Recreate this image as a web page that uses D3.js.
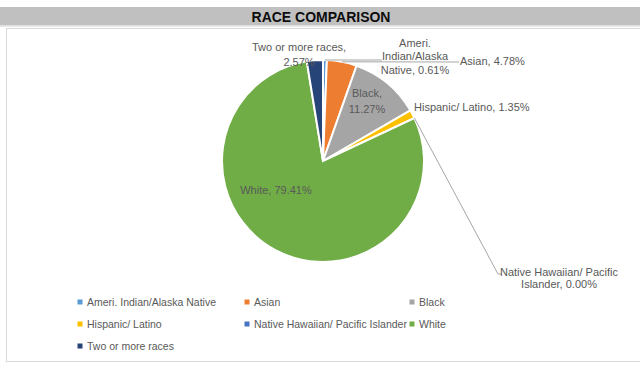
<!DOCTYPE html>
<html>
<head>
<meta charset="utf-8">
<script src="https://cdn.jsdelivr.net/npm/d3@7"></script>
<style>
  html, body { margin: 0; padding: 0; background: #fff; }
  svg { display: block; }
  text { font-family: "Liberation Sans", Arial, sans-serif; }
</style>
</head>
<body>
<svg id="chart" width="640" height="370"></svg>
<script>
// ---- data ----
const title = "RACE COMPARISON";
const categories = [
  "Ameri. Indian/Alaska Native",
  "Asian",
  "Black",
  "Hispanic/ Latino",
  "Native Hawaiian/ Pacific Islander",
  "White",
  "Two or more races"
];
const values = [0.61, 4.78, 11.27, 1.35, 0.00, 79.41, 2.57];
const colors = ["#5B9BD5", "#ED7D31", "#A5A5A5", "#FFC000", "#4472C4", "#70AD47", "#264478"];
// words per line when wrapping each data label
const labelWrap = [[1, 1, 2], [3], [1, 1], [4], [3, 2], [2], [4, 1]];

// ---- layout ----
const W = 640, H = 370;
const cx = 323, cy = 161, R = 101;
// label block centre (relative to pie center) and alignment
const labelLayout = [
  { dx: 92,  dy: -105,  anchor: "middle", lh: 13.5 },
  { dx: 137, dy: -100,  anchor: "start",  lh: 13 },
  { dx: 44,  dy: -60,   anchor: "middle", lh: 16 },
  { dx: 91,  dy: -54,   anchor: "start",  lh: 13 },
  { dx: 236, dy: 117,   anchor: "middle", lh: 12.5 },
  { dx: -47, dy: 29,    anchor: "middle", lh: 13 },
  { dx: -24, dy: -106.5, anchor: "middle", lh: 15 }
];
// leader lines: label-side end points (relative to center); null = none
const leaderEnds = [
  [[59, -101]],
  [[136, -99]],
  null,
  null,
  [[175, 113], [179, 113]],
  null,
  null
];

const svg = d3.select("#chart");

// title band
svg.append("rect").attr("x", 0).attr("y", 7).attr("width", W).attr("height", 18.5).attr("fill", "#c0c0c0");
svg.append("line").attr("x1", 0).attr("x2", W).attr("y1", 26.5).attr("y2", 26.5)
  .attr("stroke", "#e6e6e6").attr("stroke-width", 1);
svg.append("text").attr("x", 321).attr("y", 21.5).attr("text-anchor", "middle")
  .attr("font-size", 14).attr("font-weight", "bold").attr("fill", "#0d0d0d").text(title);

// chart frame
svg.append("rect").attr("x", 6.5).attr("y", 28.5).attr("width", 700).attr("height", 333)
  .attr("fill", "none").attr("stroke", "#d9d9d9").attr("stroke-width", 1);

// pie
const pie = d3.pie().sort(null).value(d => d).startAngle(0).endAngle(2 * Math.PI);
const arcs = pie(values);
const arc = d3.arc().innerRadius(0).outerRadius(R);

const g = svg.append("g").attr("transform", `translate(${cx},${cy})`);
g.selectAll("path.slice").data(arcs).join("path")
  .attr("class", "slice")
  .attr("d", arc)
  .attr("fill", (d, i) => colors[i])
  .attr("stroke", "#fff")
  .attr("stroke-width", 2)
  .attr("stroke-linejoin", "miter");

// leader lines
arcs.forEach((d, i) => {
  const ends = leaderEnds[i];
  if (!ends) return;
  const a = (d.startAngle + d.endAngle) / 2;
  const start = [Math.sin(a) * R, -Math.cos(a) * R];
  const pts = [start].concat(ends);
  g.append("path")
    .attr("d", d3.line()(pts))
    .attr("fill", "none")
    .attr("stroke", "#a6a6a6")
    .attr("stroke-width", 1);
});

// data labels
const fmt = v => v.toFixed(2) + "%";
arcs.forEach((d, i) => {
  const words = (categories[i] + ", " + fmt(values[i])).split(" ");
  const lines = [];
  let k = 0;
  labelWrap[i].forEach(n => { lines.push(words.slice(k, k + n).join(" ")); k += n; });
  if (k < words.length) lines[lines.length - 1] += " " + words.slice(k).join(" ");
  const L = labelLayout[i];
  const t = g.append("text")
    .attr("text-anchor", L.anchor)
    .attr("font-size", 11)
    .attr("fill", "#595959");
  const y0 = L.dy - (lines.length - 1) * L.lh / 2 + 4;
  lines.forEach((ln, j) => {
    t.append("tspan").attr("x", L.dx).attr("y", y0 + j * L.lh).text(ln);
  });
});

// legend
const legCols = [80, 247, 412];
const legRows = [302, 324, 346];
const leg = svg.append("g");
categories.forEach((c, i) => {
  const col = i % 3, row = Math.floor(i / 3);
  const x = legCols[col], y = legRows[row];
  leg.append("rect").attr("x", x - 2.5).attr("y", y - 2.5).attr("width", 5).attr("height", 5)
    .attr("fill", colors[i]);
  leg.append("text").attr("x", x + 7).attr("y", y + 4)
    .attr("font-size", 10.5).attr("fill", "#595959").text(c);
});
</script>
</body>
</html>
